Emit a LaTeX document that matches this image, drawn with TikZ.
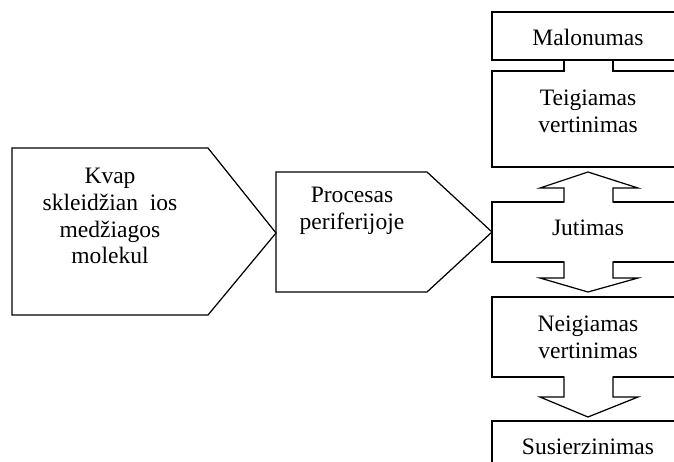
\documentclass[tikz,border=0pt]{standalone}
\usepackage{fontspec}
\setmainfont{Liberation Serif}
\usepackage{tikz}

\begin{document}
\begin{tikzpicture}[x=0.02cm, y=-0.02cm, line width=0.7pt,
        lbl/.style={align=center, inner sep=0pt, font=\fontsize{13.4}{15.3}\selectfont}]
            \clip (0,0) rectangle (674,461);
            \useasboundingbox (0,0) rectangle (674,461);
            % left side
            \draw (12,148) -- (208,148) -- (276,233) -- (208,315) -- (12,315) -- cycle;
            \draw (276,172) -- (427,172) -- (492,232) -- (427,292) -- (276,292) -- cycle;
            % right column
            \foreach \t/\b in {12/60, 71/167, 202/262, 297/377, 421/470} {
                \draw (492,\t) rectangle (684,\b);
            }
            % stems and block arrows
            \fill[white] (564,69.5) rectangle (613,72.5);
            \draw (564,60) -- (564,71.6);
            \draw (613,60) -- (613,71.6);
            \fill[white] (564,200.5) rectangle (613,203.5);
            \draw (564,202.6) -- (564,188) -- (540,188) -- (588,172) -- (638,188) -- (613,188) -- (613,202.6);
            \foreach \s/\h/\p in {262/278/292, 377/397/417} {
                \fill[white] (564,\s-1.5) rectangle (613,\s+1.5);
                \draw (564,\s-0.6) -- (564,\h) -- (540,\h) -- (588,\p) -- (638,\h) -- (613,\h) -- (613,\s-0.6);
            }
            % texts
            \node[lbl] (kvap) at (110,216) {Kvap\\skleidžian\ \ ios\\medžiagos\\molekul};
            \node[lbl] (procesas) at (352,211) {Procesas\\periferijoje};
            \node[lbl] (malonumas) at (588,37) {Malonumas};
            \node[lbl] (teigiamas) at (588,111) {Teigiamas\\vertinimas};
            \node[lbl] (jutimas) at (588,228) {Jutimas};
            \node[lbl] (neigiamas) at (588,337) {Neigiamas\\vertinimas};
            \node[lbl] (susierzinimas) at (588,447) {Susierzinimas};
        \end{tikzpicture}
\end{document}
